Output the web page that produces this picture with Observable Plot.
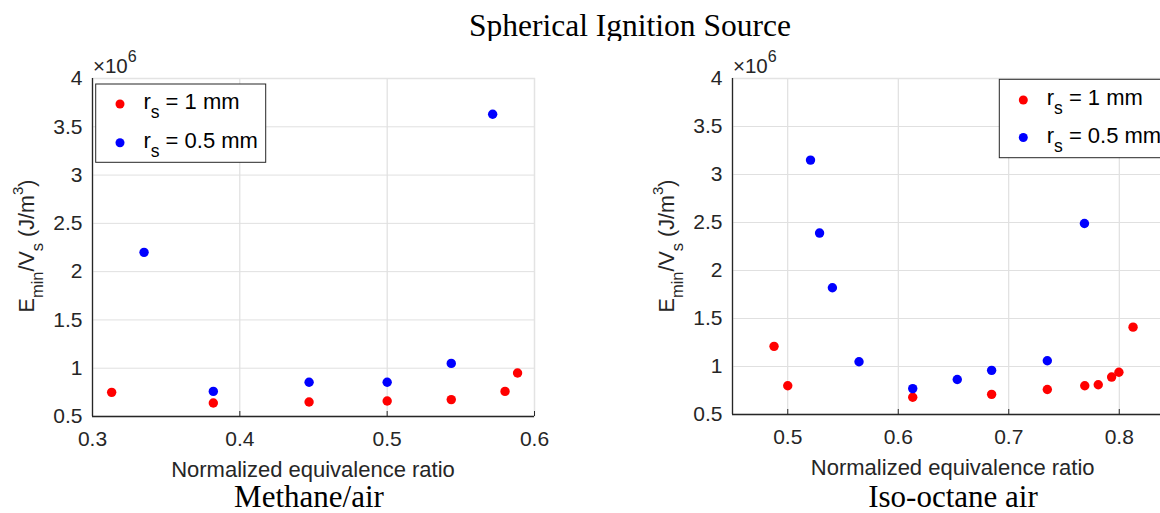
<!DOCTYPE html>
<html>
<head>
<meta charset="utf-8">
<script src="https://cdn.jsdelivr.net/npm/d3@7"></script>
<script src="https://cdn.jsdelivr.net/npm/@observablehq/plot@0.6"></script>
<style>
  html, body { margin: 0; padding: 0; background: #fff; }
  #wrap { position: relative; width: 1160px; height: 513px; overflow: hidden; background: #fff; }
  .panel { position: absolute; top: 0; width: 580px; height: 513px; }
  .panel svg { max-width: none !important; }
  #overlay { position: absolute; left: 0; top: 0; pointer-events: none; }
</style>
</head>
<body>
<div id="wrap">
  <div id="left" class="panel" style="left:0px"></div>
  <div id="right" class="panel" style="left:640px"></div>
</div>
<script>
// ---- Data (values in J/m^3) ----
const methaneX_r1 = [0.313, 0.382, 0.447, 0.500, 0.5435, 0.580, 0.5885];
const methaneY_r1 = [0.75e6, 0.64e6, 0.65e6, 0.66e6, 0.675e6, 0.76e6, 0.95e6];
const methaneX_r05 = [0.335, 0.382, 0.447, 0.500, 0.5435, 0.5716];
const methaneY_r05 = [2.20e6, 0.76e6, 0.855e6, 0.855e6, 1.05e6, 3.63e6];

const isoX_r1 = [0.4876, 0.500, 0.6131, 0.6845, 0.7349, 0.7688, 0.781, 0.7931, 0.7997, 0.8125];
const isoY_r1 = [1.21e6, 0.80e6, 0.68e6, 0.71e6, 0.76e6, 0.80e6, 0.81e6, 0.89e6, 0.94e6, 1.41e6];
const isoX_r05 = [0.5206, 0.5288, 0.5404, 0.5645, 0.6131, 0.6534, 0.6845, 0.7349, 0.7685];
const isoY_r05 = [3.15e6, 2.39e6, 1.82e6, 1.05e6, 0.77e6, 0.865e6, 0.96e6, 1.06e6, 2.49e6];

const methaneXTicks = [0.3, 0.4, 0.5, 0.6];
const isoXTicks = [0.5, 0.6, 0.7, 0.8];
const yTicks = [0.5e6, 1e6, 1.5e6, 2e6, 2.5e6, 3e6, 3.5e6, 4e6];

const seriesLabels = ["1 mm", "0.5 mm"];
const seriesColors = ["#ff0000", "#0000ff"];
const xLabel = "Normalized equivalence ratio";
const titleText = "Spherical Ignition Source";
const panelCaptions = ["Methane/air", "Iso-octane air"];

const toRows = (xs, ys) => xs.map((x, i) => ({x, y: ys[i]}));

function panel({x1, y1, x05, y05, xDomain, xTicks, marginBottom}) {
  const W = 580, H = 513, mL = 92, mR = 46, mT = 78;
  const frameH = H - mT - marginBottom;
  return Plot.plot({
    width: W, height: H,
    marginLeft: mL, marginRight: mR, marginTop: mT, marginBottom,
    style: {fontFamily: "'Liberation Sans', Arial, sans-serif", fontSize: "21px", color: "#262626", background: "transparent", overflow: "visible", maxWidth: "none"},
    x: {domain: xDomain},
    y: {domain: [0.5e6, 4e6]},
    marks: [
      Plot.gridX(xTicks, {stroke: "#d9d9d9", strokeOpacity: 1}),
      Plot.gridY(yTicks, {stroke: "#e0e0e0", strokeOpacity: 1}),
      Plot.frame({stroke: "#e3e3e3", strokeWidth: 1.5}),
      Plot.tickX(xTicks, {stroke: "#262626", insetTop: frameH - 5}),
      Plot.ruleX([xDomain[0]], {stroke: "#262626", strokeWidth: 1.3}),
      Plot.ruleY([0.5e6], {stroke: "#262626", strokeWidth: 1.3}),
      Plot.axisX(xTicks, {tickSize: 0, tickPadding: 15, tickFormat: d3.format(".1f"), label: null, fontSize: 21}),
      Plot.axisY(yTicks, {tickSize: 0, tickPadding: 10, tickFormat: d => String(d / 1e6), label: null, fontSize: 21}),
      Plot.dot(toRows(x1, y1), {x: "x", y: "y", r: 4.7, fill: seriesColors[0], stroke: null}),
      Plot.dot(toRows(x05, y05), {x: "x", y: "y", r: 4.7, fill: seriesColors[1], stroke: null})
    ]
  });
}

document.getElementById("left").appendChild(panel({
  x1: methaneX_r1, y1: methaneY_r1, x05: methaneX_r05, y05: methaneY_r05,
  xDomain: [0.3, 0.6], xTicks: methaneXTicks, marginBottom: 97
}));
document.getElementById("right").appendChild(panel({
  x1: isoX_r1, y1: isoY_r1, x05: isoX_r05, y05: isoY_r05,
  xDomain: [0.45, 0.85], xTicks: isoXTicks, marginBottom: 99
}));

// ---- Overlay annotations: title, labels, legends ----
const NS = "http://www.w3.org/2000/svg";
const ov = document.createElementNS(NS, "svg");
ov.setAttribute("id", "overlay");
ov.setAttribute("width", 1160);
ov.setAttribute("height", 513);
document.getElementById("wrap").appendChild(ov);
const sans = "'Liberation Sans', Arial, sans-serif";
const serif = "'Liberation Serif', 'Times New Roman', serif";

function el(tag, attrs, parent = ov) {
  const e = document.createElementNS(NS, tag);
  for (const k in attrs) e.setAttribute(k, attrs[k]);
  parent.appendChild(e);
  return e;
}
function richText(parent, attrs, parts) {
  const t = el("text", attrs, parent);
  let cur = 0;
  for (const p of parts) {
    const s = el("tspan", {}, t);
    const shift = p.shift || 0;
    s.setAttribute("dy", shift - cur);
    cur = shift;
    if (p.size) s.setAttribute("font-size", p.size);
    s.textContent = p.t;
  }
  return t;
}

// title (clipped like the reference)
const defs = el("defs", {});
const cp = el("clipPath", {id: "titleClip"}, defs);
el("rect", {x: 0, y: 0, width: 1160, height: 41}, cp);
const tg = el("g", {"clip-path": "url(#titleClip)"});
el("text", {x: 630, y: 36, "text-anchor": "middle", "font-family": serif, "font-size": 31.5, fill: "#000"}, tg).textContent = titleText;

const panels = [
  {dx: 0, axisCx: 313, xlabY: 477, capCx: 309},
  {dx: 640, axisCx: 952.7, xlabY: 475, capCx: 953}
];
panels.forEach((p, i) => {
  el("text", {x: p.axisCx, y: p.xlabY, "text-anchor": "middle", "font-family": sans, "font-size": 22, fill: "#262626"}).textContent = xLabel;
  el("text", {x: p.capCx, y: 507, "text-anchor": "middle", "font-family": serif, "font-size": 31, fill: "#000"}).textContent = panelCaptions[i];
  richText(ov, {transform: `translate(${p.dx + 33.5},246) rotate(-90)`, "text-anchor": "middle", "font-family": sans, "font-size": 21.5, fill: "#262626"}, [
    {t: "E"}, {t: "min", size: 16.5, shift: 9}, {t: "/V"}, {t: "s", size: 16.5, shift: 9}, {t: " (J/m"}, {t: "3", size: 15, shift: -11}, {t: ")"}
  ]);
  richText(ov, {x: p.dx + 93, y: 72.5, "font-family": sans, "font-size": 20.5, fill: "#262626"}, [
    {t: "×10"}, {t: "6", size: 16, shift: -11}
  ]);
});

function legend(x, y, w, h, dotX, rowsY) {
  el("rect", {x, y, width: w, height: h, fill: "#fff", stroke: "#262626", "stroke-width": 1});
  rowsY.forEach((ry, i) => {
    el("circle", {cx: dotX, cy: ry - 5, r: 4.5, fill: seriesColors[i]});
    richText(ov, {x: dotX + 23.4, y: ry, "font-family": sans, "font-size": 22, fill: "#000"}, [
      {t: "r"}, {t: "s", size: 17.5, shift: 9}, {t: " = " + seriesLabels[i]}
    ]);
  });
}
legend(95.7, 84, 170, 78.3, 120, [109, 147.8]);
legend(999.3, 79.3, 200, 78.4, 1023.3, [105, 142.5]);
</script>
</body>
</html>
